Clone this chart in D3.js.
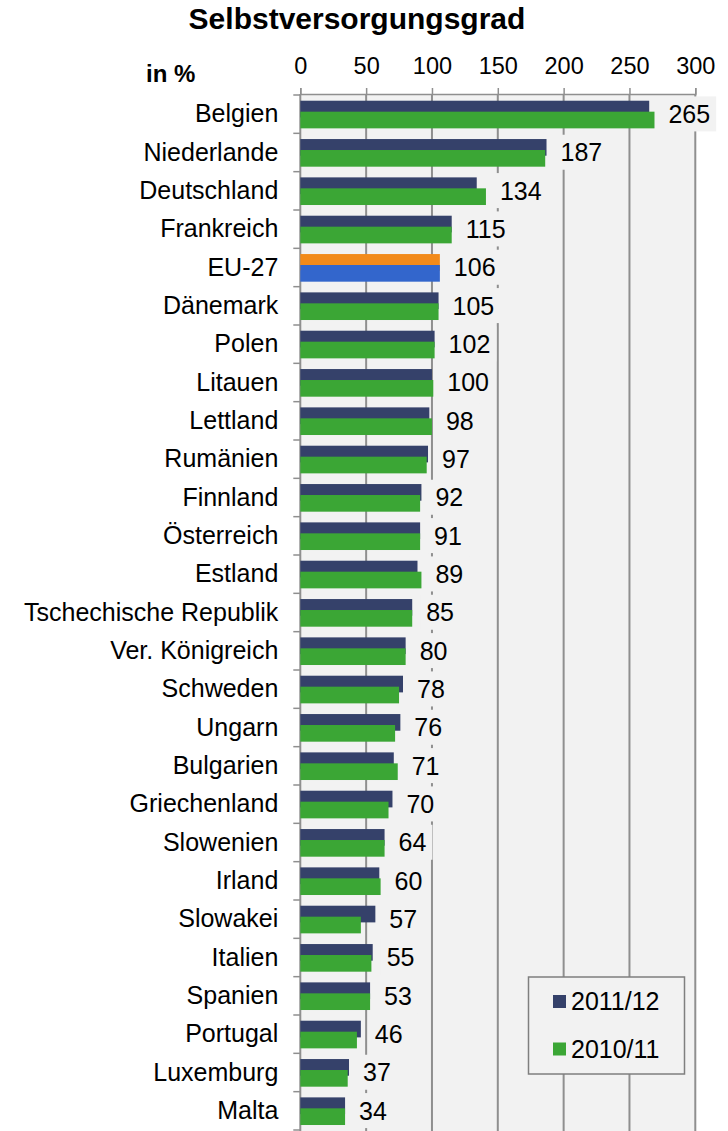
<!DOCTYPE html>
<html>
<head>
<meta charset="utf-8">
<script src="https://cdn.jsdelivr.net/npm/d3@7"></script>
<style>
  body { margin: 0; background: #fff; }
  text { font-family: "Liberation Sans", Arial, sans-serif; fill: #000; }
</style>
</head>
<body>
<div class="chart"></div>
<script>
// Data
var countries = ["Belgien", "Niederlande", "Deutschland", "Frankreich", "EU-27", "Dänemark",
  "Polen", "Litauen", "Lettland", "Rumänien", "Finnland", "Österreich", "Estland",
  "Tschechische Republik", "Ver. Königreich", "Schweden", "Ungarn", "Bulgarien",
  "Griechenland", "Slowenien", "Irland", "Slowakei", "Italien", "Spanien", "Portugal",
  "Luxemburg", "Malta"];
var values2011 = [265, 187, 134, 115, 106, 105, 102, 100, 98, 97, 92, 91, 89, 85, 80, 78,
  76, 71, 70, 64, 60, 57, 55, 53, 46, 37, 34];
var values2010 = [269, 186, 141, 115, 106, 105, 102, 101, 100, 96, 91, 91, 92, 85, 80, 75,
  72, 74, 67, 64, 61, 46, 54, 53, 43, 36, 34];
var seriesNames = ["2011/12", "2010/11"];
var tickValues = [0, 50, 100, 150, 200, 250, 300];

var svgWidth = 728;
var svgHeight = 1131;
var margin = { top: 95, left: 300 };
var plotRight = 695.3;
var plotBottom = 1130;

var navy = "#35416a", green = "#3ba635", orange = "#f28a1a", blue = "#3366cc";
var gridColor = "#8f8f8f", bg = "#f2f2f2";

var svg = d3.select(".chart")
  .append("svg")
  .attr("width", svgWidth)
  .attr("height", svgHeight);

var x = d3.scaleLinear().domain([0, 300]).range([margin.left + 0.3, plotRight]);
var y = d3.scaleBand().domain(countries).range([margin.top, plotBottom]);
var bw = y.bandwidth();

var data = countries.map(function(c, i) {
  return { name: c, a: values2011[i], b: values2010[i], eu: c === "EU-27" };
});

// Title
svg.append("text")
  .attr("x", 357)
  .attr("y", 29)
  .attr("text-anchor", "middle")
  .attr("font-size", "30px")
  .attr("font-weight", "bold")
  .text("Selbstversorgungsgrad");

svg.append("text")
  .attr("x", 146)
  .attr("y", 82)
  .attr("font-size", "24px")
  .attr("font-weight", "bold")
  .text("in %");

// Plot background
svg.append("rect")
  .attr("x", x(0))
  .attr("y", margin.top - 1)
  .attr("width", x(300) - x(0))
  .attr("height", plotBottom - margin.top + 2)
  .attr("fill", bg);

// Gridlines
svg.selectAll(".grid")
  .data(tickValues.slice(1))
  .enter().append("line")
  .attr("class", "grid")
  .attr("x1", function(d) { return x(d); })
  .attr("x2", function(d) { return x(d); })
  .attr("y1", margin.top - 1)
  .attr("y2", svgHeight)
  .attr("stroke", gridColor)
  .attr("stroke-width", 2);

// Top axis
var topAxis = svg.append("g")
  .attr("transform", "translate(0," + (margin.top - 1) + ")")
  .call(d3.axisTop(x).tickValues(tickValues).tickSize(6).tickPadding(14));
topAxis.select(".domain").attr("stroke", gridColor).attr("stroke-width", 1.5);
topAxis.selectAll(".tick line").attr("stroke", gridColor).attr("stroke-width", 1.5);
topAxis.selectAll(".tick text")
  .attr("font-size", "23.5px")
  .attr("fill", "#000")
  .style("font-family", "'Liberation Sans', Arial, sans-serif");

// Left axis labels
var leftAxis = svg.append("g")
  .attr("transform", "translate(" + x(0) + ",0)")
  .call(d3.axisLeft(y).tickSize(0).tickPadding(22));
leftAxis.select(".domain").remove();
leftAxis.selectAll(".tick text")
  .attr("font-size", "25px")
  .attr("fill", "#000")
  .style("font-family", "'Liberation Sans', Arial, sans-serif");

// Left axis line and ticks at band borders
svg.append("line")
  .attr("x1", x(0)).attr("x2", x(0))
  .attr("y1", margin.top - 1).attr("y2", svgHeight)
  .attr("stroke", gridColor).attr("stroke-width", 2);

var borders = countries.map(function(c) { return y(c); }).concat([plotBottom]);
svg.selectAll(".ytick")
  .data(borders)
  .enter().append("line")
  .attr("class", "ytick")
  .attr("x1", x(0) - 7).attr("x2", x(0))
  .attr("y1", function(d) { return d; })
  .attr("y2", function(d) { return d; })
  .attr("stroke", gridColor)
  .attr("stroke-width", 1.5);

// Bars 2011/12
svg.selectAll(".bar2011")
  .data(data)
  .enter().append("rect")
  .attr("class", "bar2011")
  .attr("x", x(0))
  .attr("y", function(d) { return y(d.name) + bw * 0.149; })
  .attr("width", function(d) { return x(d.a) - x(0); })
  .attr("height", bw * 0.435)
  .attr("fill", function(d) { return d.eu ? orange : navy; });

// Bars 2010/11
svg.selectAll(".bar2010")
  .data(data)
  .enter().append("rect")
  .attr("class", "bar2010")
  .attr("x", x(0))
  .attr("y", function(d) { return y(d.name) + bw * 0.435; })
  .attr("width", function(d) { return x(d.b) - x(0); })
  .attr("height", bw * 0.435)
  .attr("fill", function(d) { return d.eu ? blue : green; });

// Value labels with background boxes
var labels = svg.selectAll(".lbl")
  .data(data)
  .enter().append("g")
  .attr("class", "lbl");

labels.append("text")
  .attr("x", function(d) { return x(Math.max(d.a, d.b)) + 14; })
  .attr("y", function(d) { return y(d.name) + bw / 2; })
  .attr("dy", "0.35em")
  .attr("font-size", "25px")
  .text(function(d) { return d.a; });

labels.each(function() {
  var g = d3.select(this);
  var bb = g.select("text").node().getBBox();
  g.insert("rect", "text")
    .attr("x", bb.x - 6)
    .attr("y", bb.y + bb.height / 2 - 17.5)
    .attr("width", bb.width + 12)
    .attr("height", 35)
    .attr("fill", bg);
});

// Legend
var legend = svg.append("g");
legend.append("rect")
  .attr("x", 528.5)
  .attr("y", 977)
  .attr("width", 156)
  .attr("height", 97)
  .attr("fill", bg)
  .attr("stroke", "#7f7f7f")
  .attr("stroke-width", 1.5);

var legendItems = legend.selectAll(".leg")
  .data(seriesNames)
  .enter().append("g")
  .attr("class", "leg")
  .attr("transform", function(d, i) { return "translate(553," + (995 + i * 47.5) + ")"; });

legendItems.append("rect")
  .attr("width", 13)
  .attr("height", 13)
  .attr("fill", function(d, i) { return i === 0 ? navy : green; });

legendItems.append("text")
  .attr("x", 18)
  .attr("y", 6.5)
  .attr("dy", "0.35em")
  .attr("font-size", "25px")
  .text(function(d) { return d; });
</script>
</body>
</html>
